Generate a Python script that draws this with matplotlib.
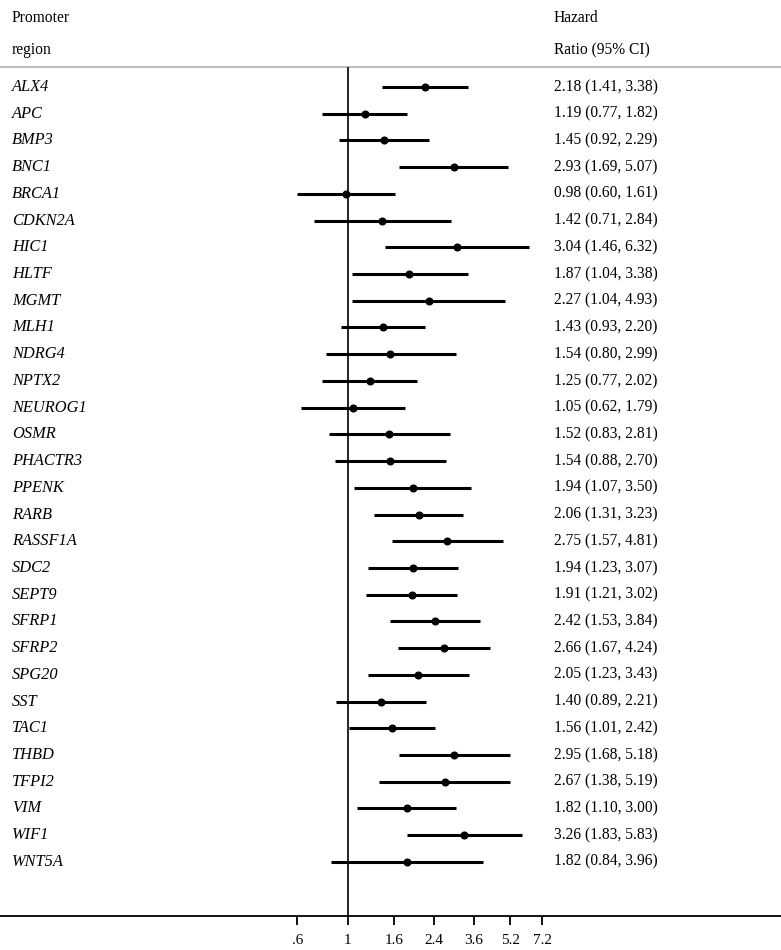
import numpy as np
import matplotlib
matplotlib.use("Agg")
import matplotlib.pyplot as plt
from matplotlib.transforms import blended_transform_factory

genes = ["ALX4", "APC", "BMP3", "BNC1", "BRCA1", "CDKN2A", "HIC1", "HLTF", "MGMT",
         "MLH1", "NDRG4", "NPTX2", "NEUROG1", "OSMR", "PHACTR3", "PPENK", "RARB",
         "RASSF1A", "SDC2", "SEPT9", "SFRP1", "SFRP2", "SPG20", "SST", "TAC1",
         "THBD", "TFPI2", "VIM", "WIF1", "WNT5A"]
hr = [2.18, 1.19, 1.45, 2.93, 0.98, 1.42, 3.04, 1.87, 2.27, 1.43, 1.54, 1.25, 1.05,
      1.52, 1.54, 1.94, 2.06, 2.75, 1.94, 1.91, 2.42, 2.66, 2.05, 1.40, 1.56, 2.95,
      2.67, 1.82, 3.26, 1.82]
lo = [1.41, 0.77, 0.92, 1.69, 0.60, 0.71, 1.46, 1.04, 1.04, 0.93, 0.80, 0.77, 0.62,
      0.83, 0.88, 1.07, 1.31, 1.57, 1.23, 1.21, 1.53, 1.67, 1.23, 0.89, 1.01, 1.68,
      1.38, 1.10, 1.83, 0.84]
hi = [3.38, 1.82, 2.29, 5.07, 1.61, 2.84, 6.32, 3.38, 4.93, 2.20, 2.99, 2.02, 1.79,
      2.81, 2.70, 3.50, 3.23, 4.81, 3.07, 3.02, 3.84, 4.24, 3.43, 2.21, 2.42, 5.18,
      5.19, 3.00, 5.83, 3.96]
tick_vals = [0.6, 1, 1.6, 2.4, 3.6, 5.2, 7.2]
tick_labels = [".6", "1", "1.6", "2.4", "3.6", "5.2", "7.2"]

plt.rcParams['font.family'] = ['Liberation Serif', 'DejaVu Serif']
W, H = 781, 950
fig = plt.figure(figsize=(W / 100, H / 100), dpi=100)
bottom_px = 916
ax = fig.add_axes([0, (H - bottom_px) / H, 1, bottom_px / H])
ax.set_xscale('log')
px_per_ln = 98.6
x1_px = 347.7
ax.set_xlim(np.exp(-x1_px / px_per_ln), np.exp((W - x1_px) / px_per_ln))
ax.set_ylim(bottom_px, 0)

for s in ['top', 'left', 'right']:
    ax.spines[s].set_visible(False)
ax.spines['bottom'].set_linewidth(1.3)
ax.set_yticks([])
ax.set_xticks(tick_vals)
ax.set_xticklabels(tick_labels)
ax.minorticks_off()
ax.tick_params(axis='x', direction='out', length=6.5, width=1.3, pad=6.5, labelsize=11)

row0, step = 87, 26.72
ys = [row0 + i * step for i in range(len(genes))]

ax.axhline(67, color='#c0c0c0', lw=1.5)
ax.vlines(1, 67, bottom_px, color='black', lw=1.2)
ax.hlines(ys, lo, hi, color='black', lw=2.2)
ax.plot(hr, ys, 'o', color='black', markersize=4.8)

tr = blended_transform_factory(fig.transFigure, ax.transData)
fs = 11.2
fs_gene = 11.8
for g, y, h, l, u in zip(genes, ys, hr, lo, hi):
    ax.text(12 / W, y, g, transform=tr, fontsize=fs_gene, style='italic', va='center', ha='left')
    ax.text(554 / W, y, f"{h:.2f} ({l:.2f}, {u:.2f})", transform=tr, fontsize=fs,
            va='center', ha='left')

ax.text(12 / W, 18, "Promoter", transform=tr, fontsize=fs, va='center', ha='left')
ax.text(12 / W, 50, "region", transform=tr, fontsize=fs, va='center', ha='left')
ax.text(554 / W, 18, "Hazard", transform=tr, fontsize=fs, va='center', ha='left')
ax.text(554 / W, 50, "Ratio (95% CI)", transform=tr, fontsize=fs, va='center', ha='left')

fig.savefig("out.png", dpi=100)
